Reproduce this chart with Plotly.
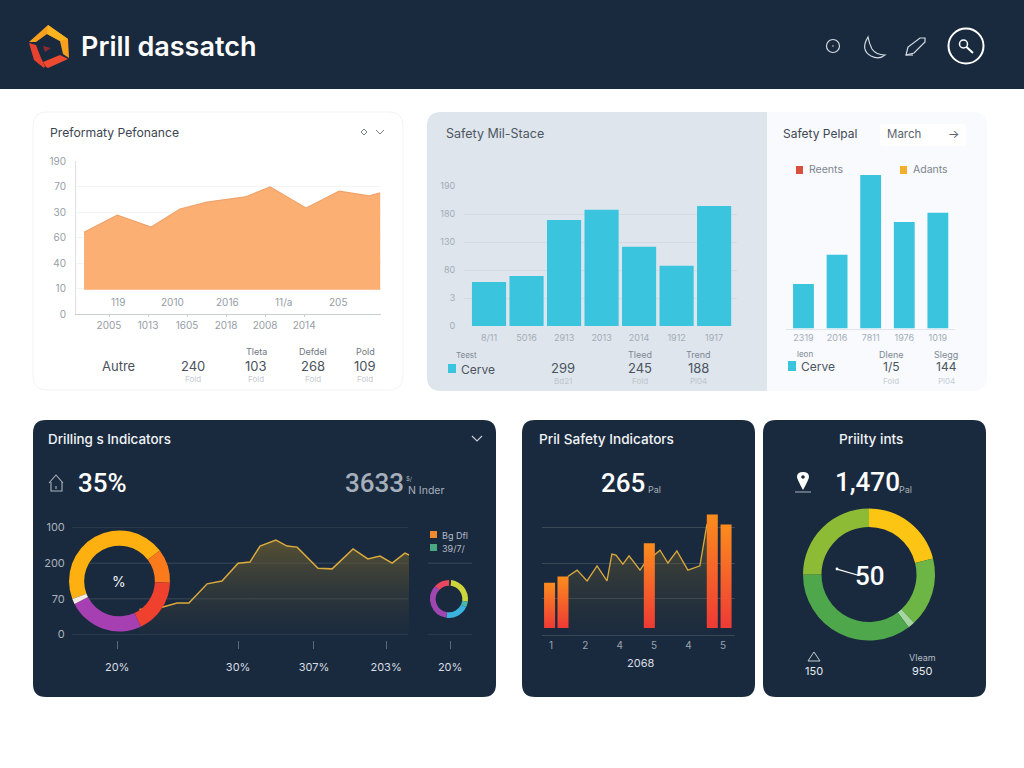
import re
import plotly.graph_objects as go

W, H = 1024, 768
NAVY = "#1a2a3e"
CYAN = "#3bc4de"
FONT = "Inter"
BIG_FONT = "Roboto"

# ---- Production performance area chart ----
perf_x = [-0.64, 0.21, 1.08, 1.82, 2.51, 3.49, 4.13, 5.05, 5.90, 6.67, 6.95]
perf_y = [3.20, 3.88, 3.41, 4.12, 4.39, 4.59, 4.98, 4.16, 4.82, 4.63, 4.75]
perf_floor = 0.95
perf_ytext = ["0", "10", "40", "60", "30", "70", "190"]
perf_xtext = ["2005", "1013", "1605", "2018", "2008", "2014"]
perf_upper_labels = ["119", "2010", "2016", "11/a", "205"]

# ---- Safety bars ----
stage_cats = ["8/11", "5016", "2913", "2013", "2014", "1912", "1917"]
stage_vals = [1.57, 1.79, 3.79, 4.15, 2.83, 2.15, 4.29]
stage_ytext = ["0", "3", "80", "130", "180", "190"]
repeal_cats = ["2319", "2016", "7811", "1976", "1019"]
repeal_vals = [1.59, 2.63, 5.48, 3.80, 4.13]

# ---- Drilling indicators ----
drill_x = [20.0, 27.0, 31.2, 34.7, 40.1, 44.5, 49.3, 52.8, 55.8, 60.5, 63.8, 66.8,
           73.0, 77.2, 83.4, 87.8, 91.4, 95.0, 98.8, 100.0]
drill_y = [0.70, 0.77, 0.88, 0.88, 1.42, 1.50, 2.00, 2.03, 2.48, 2.65, 2.48, 2.45,
           1.86, 1.84, 2.40, 2.12, 2.20, 2.00, 2.28, 2.23]
drill_ytext = ["0", "70", "200", "100"]
drill_xpos = [13.4, 49.3, 71.8, 93.2, 112.2]
drill_xtext = ["20%", "30%", "307%", "203%", "20%"]
ring_vals = [164, 39, 63, 88, 6]
ring_cols = ["#fdb00f", "#fb7a1c", "#f0412f", "#a63fb2", "#f6ece4"]
mini_vals = [92, 18, 72, 125, 48, 5]
mini_cols = ["#cfd63c", "#4ab8a8", "#3bb3dc", "#a046b0", "#e8475f", NAVY]

# ---- Pril safety indicators ----
safety_x = [1.49, 1.76, 2.05, 2.34, 2.63, 2.77, 2.89, 3.09, 3.27, 3.59, 3.73, 4.17,
            4.40, 4.66, 4.98, 5.33, 5.53, 5.71]
safety_y = [1.62, 1.80, 1.50, 1.92, 1.50, 2.25, 2.22, 1.97, 2.20, 1.80, 2.00, 2.36,
            2.00, 2.34, 1.80, 1.92, 3.06, 3.34]
safety_bar_x = [0.96, 1.35, 3.86, 5.69, 6.09]
safety_bar_top = [1.45, 1.62, 2.55, 3.36, 3.08]
safety_bar_base = 0.18
safety_bar_width = 0.32
safety_xtext = ["1", "2", "4", "5", "4", "5"]

# ---- Priority gauge ----
gauge_vals = [76, 61, 6, 127, 90]
gauge_cols = ["#fdc513", "#6db544", "#a6d6a0", "#4fa74c", "#8dbb35"]


def fx(px):
    return px / W


def fy(px):
    return 1 - px / H


def P(d):
    """Turn an SVG-like path given in page pixels into paper coordinates."""
    out, is_x = [], True
    for tok in re.findall(r"[A-Za-z]|-?[\d.]+", d):
        if tok.isalpha():
            out.append(tok)
            is_x = True
        else:
            v = float(tok)
            out.append(f"{fx(v) if is_x else fy(v):.5f}")
            is_x = not is_x
    return " ".join(out)


shapes, notes = [], []


def path(d, fill=None, line=None, width=1.0, layer="below"):
    shapes.append(dict(type="path", path=P(d), xref="paper", yref="paper", layer=layer,
                       fillcolor=fill or "rgba(0,0,0,0)",
                       line=dict(color=line or "rgba(0,0,0,0)", width=width if line else 0)))


def circle(cx, cy, r, fill=None, line=None, width=1.0, layer="below"):
    shapes.append(dict(type="circle", xref="paper", yref="paper", layer=layer,
                       x0=fx(cx - r), x1=fx(cx + r), y0=fy(cy + r), y1=fy(cy - r),
                       fillcolor=fill or "rgba(0,0,0,0)",
                       line=dict(color=line or "rgba(0,0,0,0)", width=width if line else 0)))


def rrect(x0, y0, x1, y1, r, fill, line=None, corners=(1, 1, 1, 1)):
    tl, tr, br, bl = [r * c for c in corners]
    d = (f"M {x0 + tl} {y0} L {x1 - tr} {y0} Q {x1} {y0} {x1} {y0 + tr} "
         f"L {x1} {y1 - br} Q {x1} {y1} {x1 - br} {y1} "
         f"L {x0 + bl} {y1} Q {x0} {y1} {x0} {y1 - bl} "
         f"L {x0} {y0 + tl} Q {x0} {y0} {x0 + tl} {y0} Z")
    path(d, fill=fill, line=line)


def text(x, y, s, size=10, color="#333", anchor="left", weight=400, family=FONT):
    notes.append(dict(x=fx(x), y=fy(y), xref="paper", yref="paper", text=s, showarrow=False,
                      xanchor=anchor, yanchor="middle", borderpad=0,
                      font=dict(family=family, size=size, color=color, weight=weight)))


fig = go.Figure()
layout_axes = {}


def axes(n, px_x, px_y, xrange, yrange, xa=None, ya=None):
    suffix = "" if n == 1 else str(n)
    xbase = dict(domain=[fx(px_x[0]), fx(px_x[1])], range=xrange, anchor=f"y{suffix}",
                 showgrid=False, zeroline=False, showline=False, showticklabels=False,
                 fixedrange=True)
    ybase = dict(domain=[fy(px_y[1]), fy(px_y[0])], range=yrange, anchor=f"x{suffix}",
                 showgrid=False, zeroline=False, showline=False, showticklabels=False,
                 fixedrange=True)
    xbase.update(xa or {})
    ybase.update(ya or {})
    layout_axes[f"xaxis{suffix}"] = xbase
    layout_axes[f"yaxis{suffix}"] = ybase
    return dict(xaxis=f"x{suffix}", yaxis=f"y{suffix}")


# ---- Page furniture ----
shapes.append(dict(type="rect", xref="paper", yref="paper", x0=0, x1=1, y0=fy(89), y1=1,
                   fillcolor=NAVY, line=dict(width=0), layer="below"))
rrect(33, 112, 403, 390, 14, "#ffffff", line="#f1f3f6")
rrect(427, 112, 767, 391, 14, "#dfe5ec", corners=(1, 0, 0, 1))
rrect(767, 112, 987, 391, 14, "#f8fafd", corners=(0, 1, 1, 0))
rrect(33, 420, 496, 697, 13, NAVY)
rrect(522, 420, 755, 697, 13, NAVY)
rrect(763, 420, 986, 697, 13, NAVY)

# Logo
path("M 29 42 L 48 25 L 68 39 L 69 58 L 63 54 L 60 41 L 47 34 L 36 42 Z", fill="#f6a01e")
path("M 48 25 L 68 39 L 60 41 L 47 34 Z", fill="#fbb31f")
path("M 29 43 L 36 45 L 41 58 L 45 66 L 44 68 L 34 60 Z", fill="#e8412f")
path("M 46 67 L 43 62 L 60 55 L 68 59 L 48 68 Z", fill="#ee4a30")
path("M 43 46 L 51 48 L 45 52 Z", fill="#8c2b33")
text(80, 46, "Prill dassatch", size=27, color="#ffffff", weight=600)

# Header icons
circle(833, 46, 6.5, line="#d5dbe2", width=1.2)
circle(833, 46, 0.8, fill="#d5dbe2")
path("M 868 37 Q 860 50 871 56 Q 879 60 885 55 Q 876 55 872 49 Q 869 43 868 37 Z",
     line="#d5dbe2", width=1.2)
path("M 906 55 L 908 47 L 920 38 L 925 38 L 925 42 L 914 53 Z", line="#d5dbe2", width=1.2)
path("M 906 55 L 913 55", line="#d5dbe2", width=1.2)
circle(966, 46, 17.5, line="#ffffff", width=2)
circle(963.5, 44, 4, line="#ffffff", width=1.5)
path("M 966.5 47 L 973 53", line="#ffffff", width=2)

# ---- Panel 1: area chart ----
tick_grey = dict(family=FONT, size=10, color="#969da5")
a1 = axes(1, (76, 381), (161, 314), [-0.846, 6.97], [0, 6],
          xa=dict(tickmode="array", tickvals=list(range(6)), ticktext=perf_xtext,
                  showticklabels=True, ticks="outside", ticklen=2, tickcolor="#c9ced4",
                  tickfont=tick_grey, showline=True, linecolor="#c9ced4"),
          ya=dict(tickmode="array", tickvals=list(range(7)), ticktext=perf_ytext,
                  showticklabels=True, ticks="outside", ticklen=7,
                  tickcolor="rgba(0,0,0,0)", tickfont=tick_grey, showgrid=True,
                  gridcolor="#f3f4f6", showline=True, linecolor="#dde0e4"))
fig.add_trace(go.Scatter(x=perf_x, y=[perf_floor] * len(perf_x), mode="lines",
                         line=dict(width=0), hoverinfo="skip", showlegend=False, **a1))
fig.add_trace(go.Scatter(x=perf_x, y=perf_y, mode="lines", fill="tonexty",
                         fillcolor="#fbaf73", line=dict(color="#efa46c", width=1.2),
                         hoverinfo="skip", showlegend=False, **a1))

text(49, 132, "Preformaty Pefonance", size=12.2, color="#3c4550")
path("M 361 132 L 364 129 L 367 132 L 364 135 Z", line="#777f88", width=1)
path("M 376 130 L 380 134 L 384 130", line="#777f88", width=1)
for x, s in zip([118, 172, 227, 283, 338], perf_upper_labels):
    text(x, 302, s, size=10, color="#969da5", anchor="center")
text(101, 366, "Autre", size=13, color="#4a525c")
for x, top, val, low in [(193, "", "240", "Fold"), (256, "Tleta", "103", "Fold"),
                         (313, "Defdel", "268", "Fold"), (365, "Pold", "109", "Fold")]:
    if top:
        text(x, 352, top, size=9, color="#6f7882", anchor="center")
    text(x, 366, val, size=13, color="#4a525c", anchor="center")
    text(x, 379, low, size=8, color="#c5cad0", anchor="center")

# ---- Panel 2 left: safety bars ----
tick_grey2 = dict(family=FONT, size=9, color="#a3adb8")
a2 = axes(2, (464, 737), (186, 326), [-0.667, 6.61], [0, 5],
          xa=dict(type="category", showticklabels=True, tickfont=tick_grey2, ticks="outside",
                  ticklen=3, tickcolor="rgba(0,0,0,0)"),
          ya=dict(tickmode="array", tickvals=list(range(6)), ticktext=stage_ytext,
                  showticklabels=True, tickfont=tick_grey2, showgrid=True, gridcolor="#d3dae2",
                  ticks="outside", ticklen=6, tickcolor="rgba(0,0,0,0)"))
fig.add_trace(go.Bar(x=stage_cats, y=stage_vals, marker=dict(color=CYAN, line=dict(width=0)),
                     width=0.91, hoverinfo="skip", showlegend=False, **a2))
text(445, 133, "Safety Mil-Stace", size=12.5, color="#4c5763")
path("M 448 364 L 456 364 L 456 373 L 448 373 Z", fill=CYAN)
text(460, 369, "Cerve", size=12, color="#4a5560")
text(466, 355, "Teest", size=8, color="#7d8894", anchor="center")
for x, top, val, low in [(563, "", "299", "Bd21"), (640, "Tleed", "245", "Fold"),
                         (698, "Trend", "188", "Pl04")]:
    if top:
        text(x, 355, top, size=9, color="#7d8894", anchor="center")
    text(x, 368, val, size=13, color="#4a5560", anchor="center")
    text(x, 381, low, size=8, color="#bdc5ce", anchor="center")

# ---- Panel 2 right: repeal bars ----
a3 = axes(3, (786, 955), (160.5, 328.5), [-0.52, 4.51], [0, 6],
          xa=dict(type="category", showticklabels=True, tickfont=tick_grey2, showline=True,
                  linecolor="#e1e5ea", ticks="outside", ticklen=1,
                  tickcolor="rgba(0,0,0,0)"))
fig.add_trace(go.Bar(x=repeal_cats, y=repeal_vals, marker=dict(color=CYAN, line=dict(width=0)),
                     width=0.62, hoverinfo="skip", showlegend=False, **a3))
text(782, 133, "Safety Pelpal", size=12, color="#3f4853")
rrect(880, 124, 966, 146, 3, "#ffffff")
text(886, 134, "March", size=11.5, color="#5a636d")
text(953, 134, "→", size=12, color="#5a636d", anchor="center")
path("M 796 166 L 803 166 L 803 174 L 796 174 Z", fill="#d9503f")
text(808, 170, "Reents", size=10.5, color="#7c858e")
path("M 900 166 L 907 166 L 907 174 L 900 174 Z", fill="#f3ae2b")
text(912, 170, "Adants", size=10.5, color="#7c858e")
path("M 788 361 L 796 361 L 796 371 L 788 371 Z", fill=CYAN)
text(800, 366, "Cerve", size=12, color="#4a5560")
text(805, 354, "leon", size=8, color="#7d8894", anchor="center")
for x, top, val, low in [(891, "Dlene", "1/5", "Fold"), (946, "Slegg", "144", "Pl04")]:
    text(x, 354, top, size=9, color="#7d8894", anchor="center")
    text(x, 366, val, size=12, color="#4a5560", anchor="center")
    text(x, 381, low, size=8, color="#c7ced6", anchor="center")

# ---- Panel 3: drilling indicators ----
tick_dark = dict(family=FONT, size=11, color="#a9b2bc")
GRID_DARK = "#3a4857"
a4 = axes(4, (72, 472), (527.5, 634.5), [0, 118.7], [0, 3],
          xa=dict(tickmode="array", tickvals=drill_xpos, ticktext=drill_xtext, showticklabels=True,
                  anchor="free", position=fy(640), ticks="outside", ticklen=8,
                  tickcolor="#5c6976", tickfont=dict(family=FONT, size=11, color="#d8dde3"),
                  ticklabelstandoff=9),
          ya=dict(tickmode="array", tickvals=list(range(4)), ticktext=drill_ytext,
                  showticklabels=True, tickfont=tick_dark, ticks="outside", ticklen=4,
                  tickcolor="rgba(0,0,0,0)"))
for level in range(4):
    shapes.append(dict(type="line", xref="paper", yref="y4", x0=fx(72), x1=fx(408), y0=level,
                       y1=level, layer="below", line=dict(color=GRID_DARK, width=1)))
for level in (0, 2):
    shapes.append(dict(type="line", xref="paper", yref="y4", x0=fx(428), x1=fx(472), y0=level,
                       y1=level, layer="below", line=dict(color=GRID_DARK, width=1)))
fig.add_trace(go.Scatter(x=drill_x, y=drill_y, mode="lines", fill="tozeroy",
                         fillgradient=dict(type="vertical", colorscale=[
                             [0, "rgba(70,70,50,0.03)"], [1, "rgba(125,105,45,0.62)"]]),
                         line=dict(color="#dcaa3c", width=1.5),
                         hoverinfo="skip", showlegend=False, **a4))


def ring(values, colors, cx, cy, r, hole, start):
    fig.add_trace(go.Pie(values=values, marker=dict(colors=colors, line=dict(width=0)),
                         domain=dict(x=[fx(cx - r), fx(cx + r)], y=[fy(cy + r), fy(cy - r)]),
                         hole=hole, sort=False, direction="clockwise", rotation=start,
                         textinfo="none", hoverinfo="skip", showlegend=False))


ring(ring_vals, ring_cols, 119.5, 581, 50.5, 0.70, 249)
ring(mini_vals, mini_cols, 449, 599, 19, 0.70, 6)

text(47, 438.5, "Drilling s Indicators", size=13.4, color="#f1f4f7", weight=500)
path("M 472 436 L 477 441 L 482 436", line="#c5ccd4", width=1.2)
path("M 49 483 L 56 475 L 63 483 M 51 482 L 51 491 L 62 491 L 62 482 M 56 486 L 56 489",
     line="#aab3bd", width=1.1)
text(77, 483, "35%", size=26, color="#ffffff", weight=500, family=BIG_FONT)
text(344, 483, "3633", size=26, color="#a6afba", weight=500, family=BIG_FONT)
text(405, 478, "$/", size=6, color="#a6afba")
text(407, 490, "N Inder", size=10.5, color="#a6afba")
text(119, 581, "%", size=14, color="#f4f6f8", anchor="center")
path("M 430 531 L 437 531 L 437 538 L 430 538 Z", fill="#f18a2e")
text(441, 535, "Bg Dfl", size=9, color="#b3bbc4")
path("M 430 544 L 437 544 L 437 551 L 430 551 Z", fill="#4aa883")
text(441, 548, "39/7/", size=9, color="#b3bbc4")

# ---- Panel 4: safety indicators ----
a5 = axes(5, (542, 735), (491.5, 634.5), [0.74, 6.35], [0, 4],
          xa=dict(tickmode="array", tickvals=list(range(1, 7)), ticktext=safety_xtext,
                  showticklabels=True, tickfont=dict(family=FONT, size=10, color="#9aa4af"),
                  showline=True, linecolor=GRID_DARK, ticks="outside", ticklen=1,
                  tickcolor="rgba(0,0,0,0)"),
          ya=dict(tickmode="array", tickvals=list(range(5)), showgrid=True, gridcolor=GRID_DARK))
fig.add_trace(go.Scatter(x=safety_x, y=safety_y, mode="lines", fill="tozeroy",
                         fillgradient=dict(type="vertical", colorscale=[
                             [0, "rgba(70,70,50,0.03)"], [1, "rgba(125,105,45,0.62)"]]),
                         line=dict(color="#dcaa3c", width=1.3),
                         hoverinfo="skip", showlegend=False, **a5))
for cx, top in zip(safety_bar_x, safety_bar_top):
    half = safety_bar_width / 2
    fig.add_trace(go.Scatter(
        x=[cx - half, cx + half, cx + half, cx - half, cx - half],
        y=[safety_bar_base, safety_bar_base, top, top, safety_bar_base],
        mode="lines", fill="toself", line=dict(width=0),
        fillgradient=dict(type="vertical", colorscale=[[0, "#ee3a35"], [1, "#fb8c1d"]]),
        hoverinfo="skip", showlegend=False, **a5))
text(538, 438.5, "Pril Safety Indicators", size=13.6, color="#f1f4f7", weight=500)
text(600, 483, "265", size=26, color="#ffffff", weight=500, family=BIG_FONT)
text(647, 489, "Pal", size=9, color="#a6afba")
text(640, 663, "2068", size=11, color="#d8dde3", anchor="center")

# ---- Panel 5: priority gauge ----
ring(gauge_vals, gauge_cols, 869, 574.5, 66, 0.72, 0)
text(871, 438.5, "Priilty ints", size=13.6, color="#f1f4f7", anchor="center", weight=500)
path("M 803 490 Q 797 479 797 477 Q 797 472 803 472 Q 809 472 809 477 Q 809 479 803 490 Z",
     fill="#ffffff")
circle(803, 477, 1.8, fill=NAVY, layer="above")
path("M 795 492 L 811 492", line="#aab3bd", width=1)
text(834, 482, "1,470", size=26, color="#ffffff", weight=500, family=BIG_FONT)
text(898, 489, "Pal", size=9, color="#a6afba")
text(870, 576, "50", size=26, color="#ffffff", anchor="center", weight=500, family=BIG_FONT)
path("M 837 569 L 859 575.5", line="#ffffff", width=1.3, layer="above")
circle(837, 569, 1.4, fill="#ffffff", layer="above")
path("M 814 652 L 820 661 L 808 661 Z", line="#c5ccd4", width=1)
text(814, 671, "150", size=11, color="#e6eaee", anchor="center")
text(922, 657, "Vleam", size=9, color="#b3bbc4", anchor="center")
text(922, 671, "950", size=11, color="#e6eaee", anchor="center")

fig.update_layout(width=W, height=H, autosize=False,
                  margin=dict(l=0, r=0, t=0, b=0, pad=0, autoexpand=False),
                  paper_bgcolor="#ffffff", plot_bgcolor="rgba(0,0,0,0)", showlegend=False,
                  shapes=shapes, annotations=notes, hovermode=False, **layout_axes)
fig.write_html("out.html", config=dict(displayModeBar=False, staticPlot=True))
